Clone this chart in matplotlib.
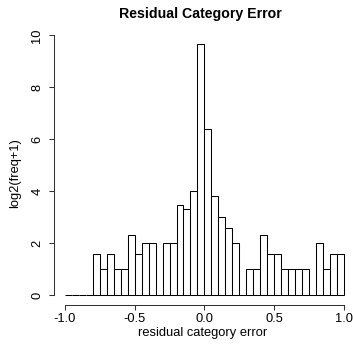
import numpy as np
import matplotlib
matplotlib.use("Agg")
import matplotlib.pyplot as plt

plt.rcParams['font.family'] = ['Liberation Sans', 'DejaVu Sans']

# histogram of residual category error, 40 bins from -1 to 1
bin_edges = np.linspace(-1.0, 1.0, 41)
counts = [0, 0, 0, 0, 2, 1, 2, 1, 1, 4,
          2, 3, 3, 0, 3, 3, 10, 9, 15, 802,
          83, 13, 7, 5, 3, 0, 1, 1, 4, 2,
          2, 1, 1, 1, 1, 0, 3, 1, 2, 2]
x_ticks = [-1.0, -0.5, 0.0, 0.5, 1.0]
y_ticks = [0, 2, 4, 6, 8, 10]

heights = np.log2(np.array(counts) + 1)

fig = plt.figure(figsize=(3.53, 3.45), dpi=100)
W, H = 353, 345
left, right, top, bottom = 53.8, 355.0, 34.3, 305.0
ax = fig.add_axes([left / W, 1 - bottom / H, (right - left) / W, (bottom - top) / H])

ax.bar(bin_edges[:-1], heights, width=0.05, align='edge',
       facecolor='white', edgecolor='black', linewidth=0.75)

ax.set_xlim(-1.08, 1.08)
ax.set_ylim(-0.386, 10.04)

for s in ['top', 'right']:
    ax.spines[s].set_visible(False)
ax.spines['bottom'].set_bounds(-1, 1)
ax.spines['left'].set_bounds(0, 10)
for s in ['bottom', 'left']:
    ax.spines[s].set_linewidth(0.75)
    ax.spines[s].set_color('#333333')

ax.set_xticks(x_ticks)
ax.set_xticklabels(['%.1f' % v for v in x_ticks])
ax.set_yticks(y_ticks)
ax.set_yticklabels([str(v) for v in y_ticks], rotation=90, va='center')
ax.tick_params(axis='both', direction='out', length=3.6, width=0.75,
               color='#333333', labelsize=9.3)
ax.tick_params(axis='x', pad=2.5)
ax.tick_params(axis='y', pad=4)

ax.set_xlabel('residual category error', fontsize=9.3, va='center')
ax.xaxis.set_label_coords(0.495, -0.103)
ax.set_ylabel('log2(freq+1)', fontsize=9.3, va='center')
ax.yaxis.set_label_coords(-0.129, 0.488)
ax.set_title('Residual Category Error', fontsize=10.2, fontweight='bold',
             x=0.485, y=1.075, va='center', pad=0)

fig.savefig('out.png', dpi=100)
